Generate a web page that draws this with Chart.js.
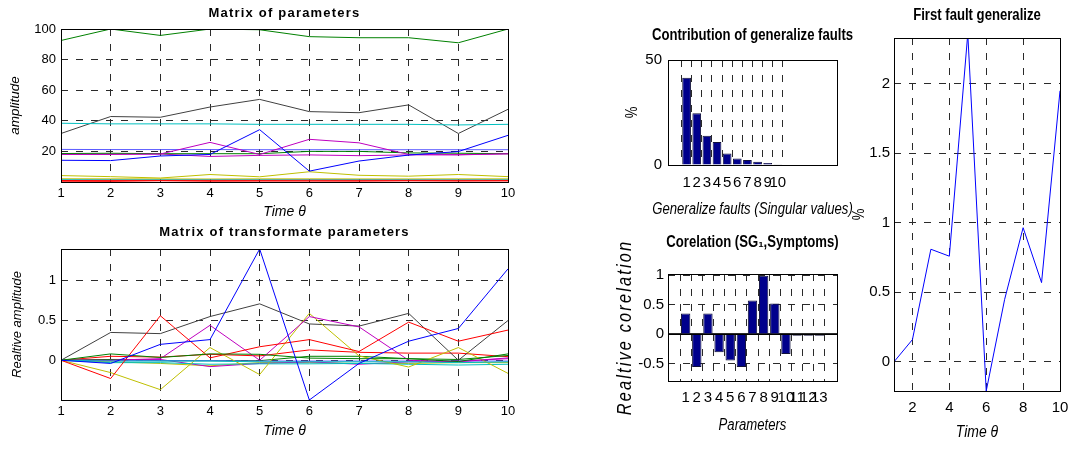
<!DOCTYPE html>
<html>
<head>
<meta charset="utf-8">
<script src="https://cdn.jsdelivr.net/npm/chart.js@4.4.1/dist/chart.umd.min.js"></script>
<style>
  html, body { margin: 0; padding: 0; background: #fff; }
  #figure { position: relative; width: 1068px; height: 450px; }
  #figure canvas { position: absolute; left: 0; top: 0; }
</style>
</head>
<body>
<div id="figure">
  <canvas id="params" width="1068" height="450"></canvas>
  <canvas id="trans" width="1068" height="450"></canvas>
  <canvas id="contrib" width="1068" height="450"></canvas>
  <canvas id="corr" width="1068" height="450"></canvas>
  <canvas id="first" width="1068" height="450"></canvas>
</div>
<script>
// time steps and tick labels
const timeSteps = [1, 2, 3, 4, 5, 6, 7, 8, 9, 10];
const ampTicks = [20, 40, 60, 80, 100];
const relTicks = [0, 0.5, 1];
const firstTimeTicks = [2, 4, 6, 8, 10];
const firstTicks = [0, 0.5, 1, 1.5, 2];
const contribTicks = [0, 50];
const corrTicks = [-0.5, 0, 0.5, 1];

// raw parameters (amplitude)
const param1 = [14.2, 14.0, 17.0, 18.0, 34.2, 7.1, 13.7, 17.6, 19.9, 30.5];
const param2 = [92.5, 100, 95.8, 100, 99.5, 95.0, 94.3, 94.3, 91.0, 100];
const param3 = [0.5, 0.4, 0.8, 0.5, 0.6, 0.6, 0.55, 0.75, 0.6, 0.7];
const param4 = [38.4, 38.0, 38.0, 38.0, 37.7, 37.7, 37.7, 37.7, 37.3, 37.7];
const param5 = [18.0, 18.0, 18.3, 25.9, 18.0, 27.9, 25.6, 18.0, 17.7, 18.5];
const param6 = [4.2, 3.5, 2.6, 4.9, 3.4, 6.7, 4.4, 3.8, 4.9, 3.5];
const param7 = [31.7, 42.8, 42.3, 49.0, 54.0, 46.0, 45.3, 50.4, 31.7, 47.5];
const param8 = [21.3, 21.2, 21.2, 21.2, 21.1, 21.1, 21.1, 21.1, 21.1, 21.1];
const param9 = [18.6, 18.8, 18.5, 18.5, 18.5, 20.0, 20.0, 19.0, 18.8, 18.5];
const param10 = [1.0, 1.05, 1.04, 1.08, 1.06, 1.13, 1.1, 1.09, 1.09, 1.05];
const param11 = [1.5, 1.45, 1.45, 1.42, 1.43, 1.43, 1.44, 1.42, 1.41, 1.42];
const param12 = [18.1, 18.3, 18.3, 16.7, 17.4, 17.7, 17.2, 17.7, 17.9, 18.4];
const param13 = [2.1, 2.05, 2.0, 1.95, 2.05, 2.05, 2.0, 2.0, 2.05, 2.05];

// transformed parameters (relative amplitude)
const trans1 = [0, -0.04, 0.2, 0.26, 1.4, -0.5, -0.04, 0.24, 0.4, 1.15];
const trans2 = [0, 0.08, 0.035, 0.08, 0.075, 0.027, 0.02, 0.02, -0.016, 0.08];
const trans3 = [0, -0.23, 0.56, 0.03, 0.17, 0.26, 0.11, 0.48, 0.24, 0.38];
const trans4 = [0, -0.01, -0.01, -0.01, -0.02, -0.02, -0.02, -0.02, -0.03, -0.02];
const trans5 = [0, 0, 0.02, 0.44, 0, 0.55, 0.42, 0, -0.02, 0.03];
const trans6 = [0, -0.155, -0.37, 0.16, -0.18, 0.59, 0.055, -0.085, 0.16, -0.165];
const trans7 = [0, 0.35, 0.335, 0.55, 0.71, 0.457, 0.43, 0.59, 0, 0.5];
const trans8 = [0, -0.005, -0.005, -0.005, -0.01, -0.01, -0.01, -0.01, -0.01, -0.01];
const trans9 = [0, 0.01, -0.005, -0.005, -0.005, 0.05, 0.05, 0.02, 0.01, 0.06];
const trans10 = [0, 0.05, 0.04, 0.075, 0.055, 0.13, 0.1, 0.09, 0.09, 0.045];
const trans11 = [0, -0.03, -0.03, -0.05, -0.045, -0.045, -0.04, -0.05, -0.06, -0.05];
const trans12 = [0, 0.01, 0.01, -0.08, -0.04, -0.02, -0.05, -0.02, -0.01, 0.02];
const trans13 = [0, -0.02, -0.04, -0.07, -0.03, -0.03, -0.04, -0.04, -0.03, -0.03];

// singular value contribution (%)
const faultIndex = [1, 2, 3, 4, 5, 6, 7, 8, 9, 10];
const contribution = [41.6, 24.7, 13.9, 10.9, 5.5, 3.1, 2.4, 1.6, 0.9, 0.3];

// correlation of SG1 with each parameter
const paramIndex = [1, 2, 3, 4, 5, 6, 7, 8, 9, 10, 11, 12, 13];
const correlation = [0.35, -0.56, 0.35, -0.31, -0.45, -0.56, 0.57, 0.99, 0.52, -0.34, -0.03, -0.03, -0.03];

// first generalized fault over time
const firstFault = [0, 0.16, 0.81, 0.76, 2.36, -0.21, 0.45, 0.965, 0.57, 1.95];

const lineColors = ['#0000ff', '#008000', '#ff0000', '#00bfbf', '#bf00bf', '#bfbf00', '#404040',
                    '#5a5aff', '#008000', '#ff0000', '#00bfbf', '#bf00bf', '#bfbf00'];

class FaultFigure {
    constructor() {
        this.sans = "'Liberation Sans', Arial, sans-serif";
        this.init();
    }

    init() {
        Chart.defaults.color = '#000';
        Chart.defaults.animation = false;
        Chart.register(this.framePlugin());
        this.drawParams();
        this.drawTrans();
        this.drawContribution();
        this.drawCorrelation();
        this.drawFirstFault();
    }

    // MATLAB-like box, zero line and labels around the plot area
    framePlugin() {
        // t = {text, font, sx, spacing}; sx squeezes the glyphs like a narrow face
        const put = (ctx, t, x, y, rot) => {
            ctx.save();
            ctx.translate(x, y);
            if (rot) ctx.rotate(rot);
            ctx.scale(t.sx || 1, 1);
            ctx.font = t.font;
            ctx.letterSpacing = t.spacing || '0px';
            ctx.fillText(t.text, 0, 0);
            ctx.restore();
        };
        return {
            id: 'matlabFrame',
            afterDatasetsDraw(chart, args, o) {
                if (!o.baseline) return;
                const { ctx, chartArea: a } = chart;
                const y = Math.round(chart.scales.y.getPixelForValue(0)) + 0.5;
                ctx.save();
                ctx.strokeStyle = '#000';
                ctx.lineWidth = 1;
                ctx.beginPath();
                ctx.moveTo(a.left, y);
                ctx.lineTo(a.right, y);
                ctx.stroke();
                ctx.restore();
            },
            afterDraw(chart, args, o) {
                const { ctx, chartArea: a } = chart;
                ctx.save();
                ctx.strokeStyle = '#000';
                ctx.lineWidth = 1;
                ctx.strokeRect(Math.round(a.left) + 0.5, Math.round(a.top) + 0.5,
                    Math.round(a.right - a.left), Math.round(a.bottom - a.top));
                ctx.fillStyle = '#000';
                ctx.textAlign = 'center';
                ctx.textBaseline = 'middle';
                const cx = (a.left + a.right) / 2;
                const cy = (a.top + a.bottom) / 2;
                if (o.title) put(ctx, o.title, cx, a.top - o.title.gap);
                if (o.xTitle) put(ctx, o.xTitle, cx, a.bottom + o.xTitle.gap);
                if (o.yTitle) put(ctx, o.yTitle, a.left - o.yTitle.gap, cy, -Math.PI / 2);
                ctx.restore();
            }
        };
    }

    axis(min, max, ticks, font, pad, isX, solidZero) {
        return {
            type: 'linear',
            min: min,
            max: max,
            afterBuildTicks: (s) => { s.ticks = ticks.map(v => ({ value: v })); },
            afterFit: (s) => {
                if (isX) s.height = 30; else s.width = 40;
                s.paddingLeft = s.paddingRight = s.paddingTop = s.paddingBottom = 0;
            },
            ticks: {
                font: font,
                color: '#000',
                padding: pad,
                autoSkip: false,
                maxRotation: 0,
                minRotation: 0,
                callback: (v) => String(v)
            },
            grid: { color: '#2a2a2a', lineWidth: 1, drawTicks: false },
            border: {
                display: false,
                dash: (ctx) => (solidZero && ctx.tick && ctx.tick.value === 0) ? [] : [7, 8]
            }
        };
    }

    baseOptions(rect, frame, x, y) {
        return {
            responsive: false,
            events: [],
            layout: {
                padding: { left: rect.l - 40, top: rect.t, right: 1068 - rect.r, bottom: 450 - rect.b - 30 }
            },
            plugins: { legend: { display: false }, tooltip: { enabled: false }, title: { display: false }, matlabFrame: frame },
            scales: { x: x, y: y }
        };
    }

    lineSets(series) {
        return series.map((ys, i) => ({
            data: timeSteps.map((t, k) => ({ x: t, y: ys[k] })),
            borderColor: lineColors[i],
            borderWidth: 1,
            pointRadius: 0,
            tension: 0,
            fill: false
        }));
    }

    barSet(xs, ys, pct) {
        return {
            data: xs.map((k, i) => ({ x: k, y: ys[i] })),
            backgroundColor: '#00008c',
            borderColor: '#10103a',
            borderWidth: 1,
            categoryPercentage: 1,
            barPercentage: pct
        };
    }

    // label styles for the wide (left) and narrow (right) panels
    wideText(text, gap, style) {
        return { text: text, gap: gap, font: `${style} ${this.sans}` };
    }

    narrowText(text, gap, style, spacing) {
        return { text: text, gap: gap, font: `${style} ${this.sans}`, sx: 0.82, spacing: spacing };
    }

    drawParams() {
        const font = { family: this.sans, size: 13 };
        new Chart(document.getElementById('params'), {
            type: 'line',
            data: { datasets: this.lineSets([param1, param2, param3, param4, param5, param6, param7,
                                             param8, param9, param10, param11, param12, param13]) },
            options: this.baseOptions({ l: 61, t: 29, r: 508, b: 182 }, {
                title: Object.assign(this.wideText('Matrix of parameters', 16, 'bold 13px'), { spacing: '1.2px' }),
                xTitle: this.wideText('Time θ', 30, 'italic 14px'),
                yTitle: this.wideText('amplitude', 46, 'italic 13.5px')
            }, this.axis(1, 10, timeSteps, font, 4, true), this.axis(0, 100, ampTicks, font, 5, false))
        });
    }

    drawTrans() {
        const font = { family: this.sans, size: 13 };
        new Chart(document.getElementById('trans'), {
            type: 'line',
            data: { datasets: this.lineSets([trans1, trans2, trans3, trans4, trans5, trans6, trans7,
                                             trans8, trans9, trans10, trans11, trans12, trans13]) },
            options: this.baseOptions({ l: 61, t: 249, r: 508, b: 400 }, {
                title: Object.assign(this.wideText('Matrix of transformate parameters', 17, 'bold 13px'), { spacing: '1.2px' }),
                xTitle: this.wideText('Time θ', 31, 'italic 14px'),
                yTitle: this.wideText('Realtive amplitude', 44, 'italic 13px')
            }, this.axis(1, 10, timeSteps, font, 4, true), this.axis(-0.5, 1.4, relTicks, font, 5, false))
        });
    }

    drawContribution() {
        const font = { family: this.sans, size: 15 };
        new Chart(document.getElementById('contrib'), {
            type: 'bar',
            data: { datasets: [this.barSet(faultIndex, contribution, 0.86)] },
            options: this.baseOptions({ l: 668, t: 60, r: 837, b: 165 }, {
                title: this.narrowText('Contribution of generalize faults', 24, 'bold 16px'),
                xTitle: this.narrowText('Generalize faults (Singular values)', 45, 'italic 16px'),
                yTitle: this.narrowText('%', 35, '16px')
            }, this.axis(0, 15, faultIndex, font, 9, true), this.axis(0, 50, contribTicks, font, 6, false))
        });
    }

    drawCorrelation() {
        const font = { family: this.sans, size: 15 };
        new Chart(document.getElementById('corr'), {
            type: 'bar',
            data: { datasets: [this.barSet(paramIndex, correlation, 0.84)] },
            options: this.baseOptions({ l: 668, t: 274, r: 837, b: 381 }, {
                title: this.narrowText('Corelation (SG₁,Symptoms)', 31, 'bold 16px'),
                xTitle: this.narrowText('Parameters', 45, 'italic 16px'),
                yTitle: this.narrowText('Realtive corelation', 43, 'italic 20px', '2.6px'),
                baseline: true
            }, this.axis(0, 14, paramIndex, font, 8, true), this.axis(-0.8, 1.02, corrTicks, font, 4, false, true))
        });
    }

    drawFirstFault() {
        const font = { family: this.sans, size: 15 };
        new Chart(document.getElementById('first'), {
            type: 'line',
            data: {
                datasets: [{
                    data: timeSteps.map((t, k) => ({ x: t, y: firstFault[k] })),
                    borderColor: '#0000ff',
                    borderWidth: 1,
                    pointRadius: 0,
                    tension: 0
                }]
            },
            options: this.baseOptions({ l: 894, t: 38, r: 1060, b: 391 }, {
                title: this.narrowText('First fault generalize', 22, 'bold 16px'),
                xTitle: this.narrowText('Time θ', 41, 'italic 17px'),
                yTitle: this.narrowText('%', 34, '16px')
            }, this.axis(1, 10, firstTimeTicks, font, 8, true), this.axis(-0.21, 2.33, firstTicks, font, 4, false))
        });
    }
}

document.addEventListener('DOMContentLoaded', () => {
    window.faultFigure = new FaultFigure();
});
</script>
</body>
</html>
